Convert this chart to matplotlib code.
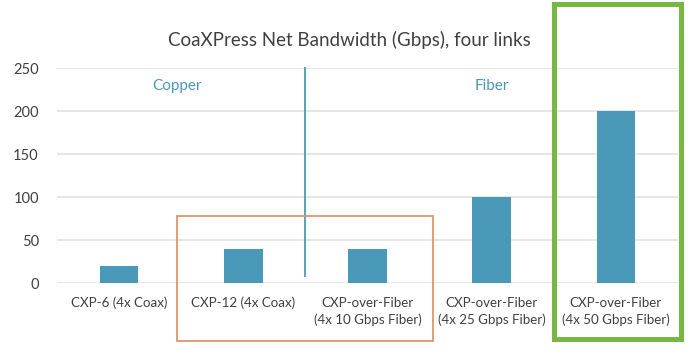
import matplotlib.pyplot as plt
from matplotlib.patches import Rectangle

categories = ['CXP-6 (4x Coax)', 'CXP-12 (4x Coax)', 'CXP-over-Fiber\n(4x 10 Gbps Fiber)',
              'CXP-over-Fiber\n(4x 25 Gbps Fiber)', 'CXP-over-Fiber\n(4x 50 Gbps Fiber)']
bandwidth = [20, 40, 40, 100, 200]
yticks = [0, 50, 100, 150, 200, 250]

blue = '#4a99b8'
text_col = '#404040'

plt.rcParams['font.family'] = ['Lato', 'DejaVu Sans']

fig = plt.figure(figsize=(6.94, 3.64), dpi=100)
ax = fig.add_axes([0.082, 0.2225, 0.895, 0.5905])

x = range(len(categories))
ax.bar(x, bandwidth, width=0.31, color=blue, zorder=3)

ax.set_xlim(-0.5, 4.5)
ax.set_ylim(0, 250)
ax.set_yticks(yticks)
ax.set_xticks(list(x))
ax.set_xticklabels(categories, fontsize=9.6, color=text_col, linespacing=1.45)
ax.tick_params(axis='y', labelsize=10.5, labelcolor=text_col, length=0, pad=13)
ax.tick_params(axis='x', length=0, pad=10)
ax.yaxis.grid(True, color='#e2e2e2', linewidth=1.2)
ax.set_axisbelow(True)
for s in ax.spines.values():
    s.set_visible(False)

# copper / fiber split
ax.plot([1.5, 1.5], [8, 250], color=blue, linewidth=1.3, zorder=4, clip_on=False)
ax.text(0.47, 229, 'Copper', color=blue, fontsize=11, ha='center', va='center')
ax.text(3.0, 229, 'Fiber', color=blue, fontsize=11, ha='center', va='center')

# highlight boxes
ax.add_patch(Rectangle((0.466, -67), 2.061, 145, fill=False, edgecolor='#e0956c',
                       linewidth=1.3, clip_on=False, zorder=5))
ax.add_patch(Rectangle((3.498, -65), 1.026, 389, fill=False, edgecolor='#76b843',
                       linewidth=3.6, clip_on=False, zorder=5))

fig.text(0.503, 0.89, 'CoaXPress Net Bandwidth (Gbps), four links', fontsize=13.5,
         color=text_col, ha='center', va='center')

fig.savefig('out.png', dpi=100)
